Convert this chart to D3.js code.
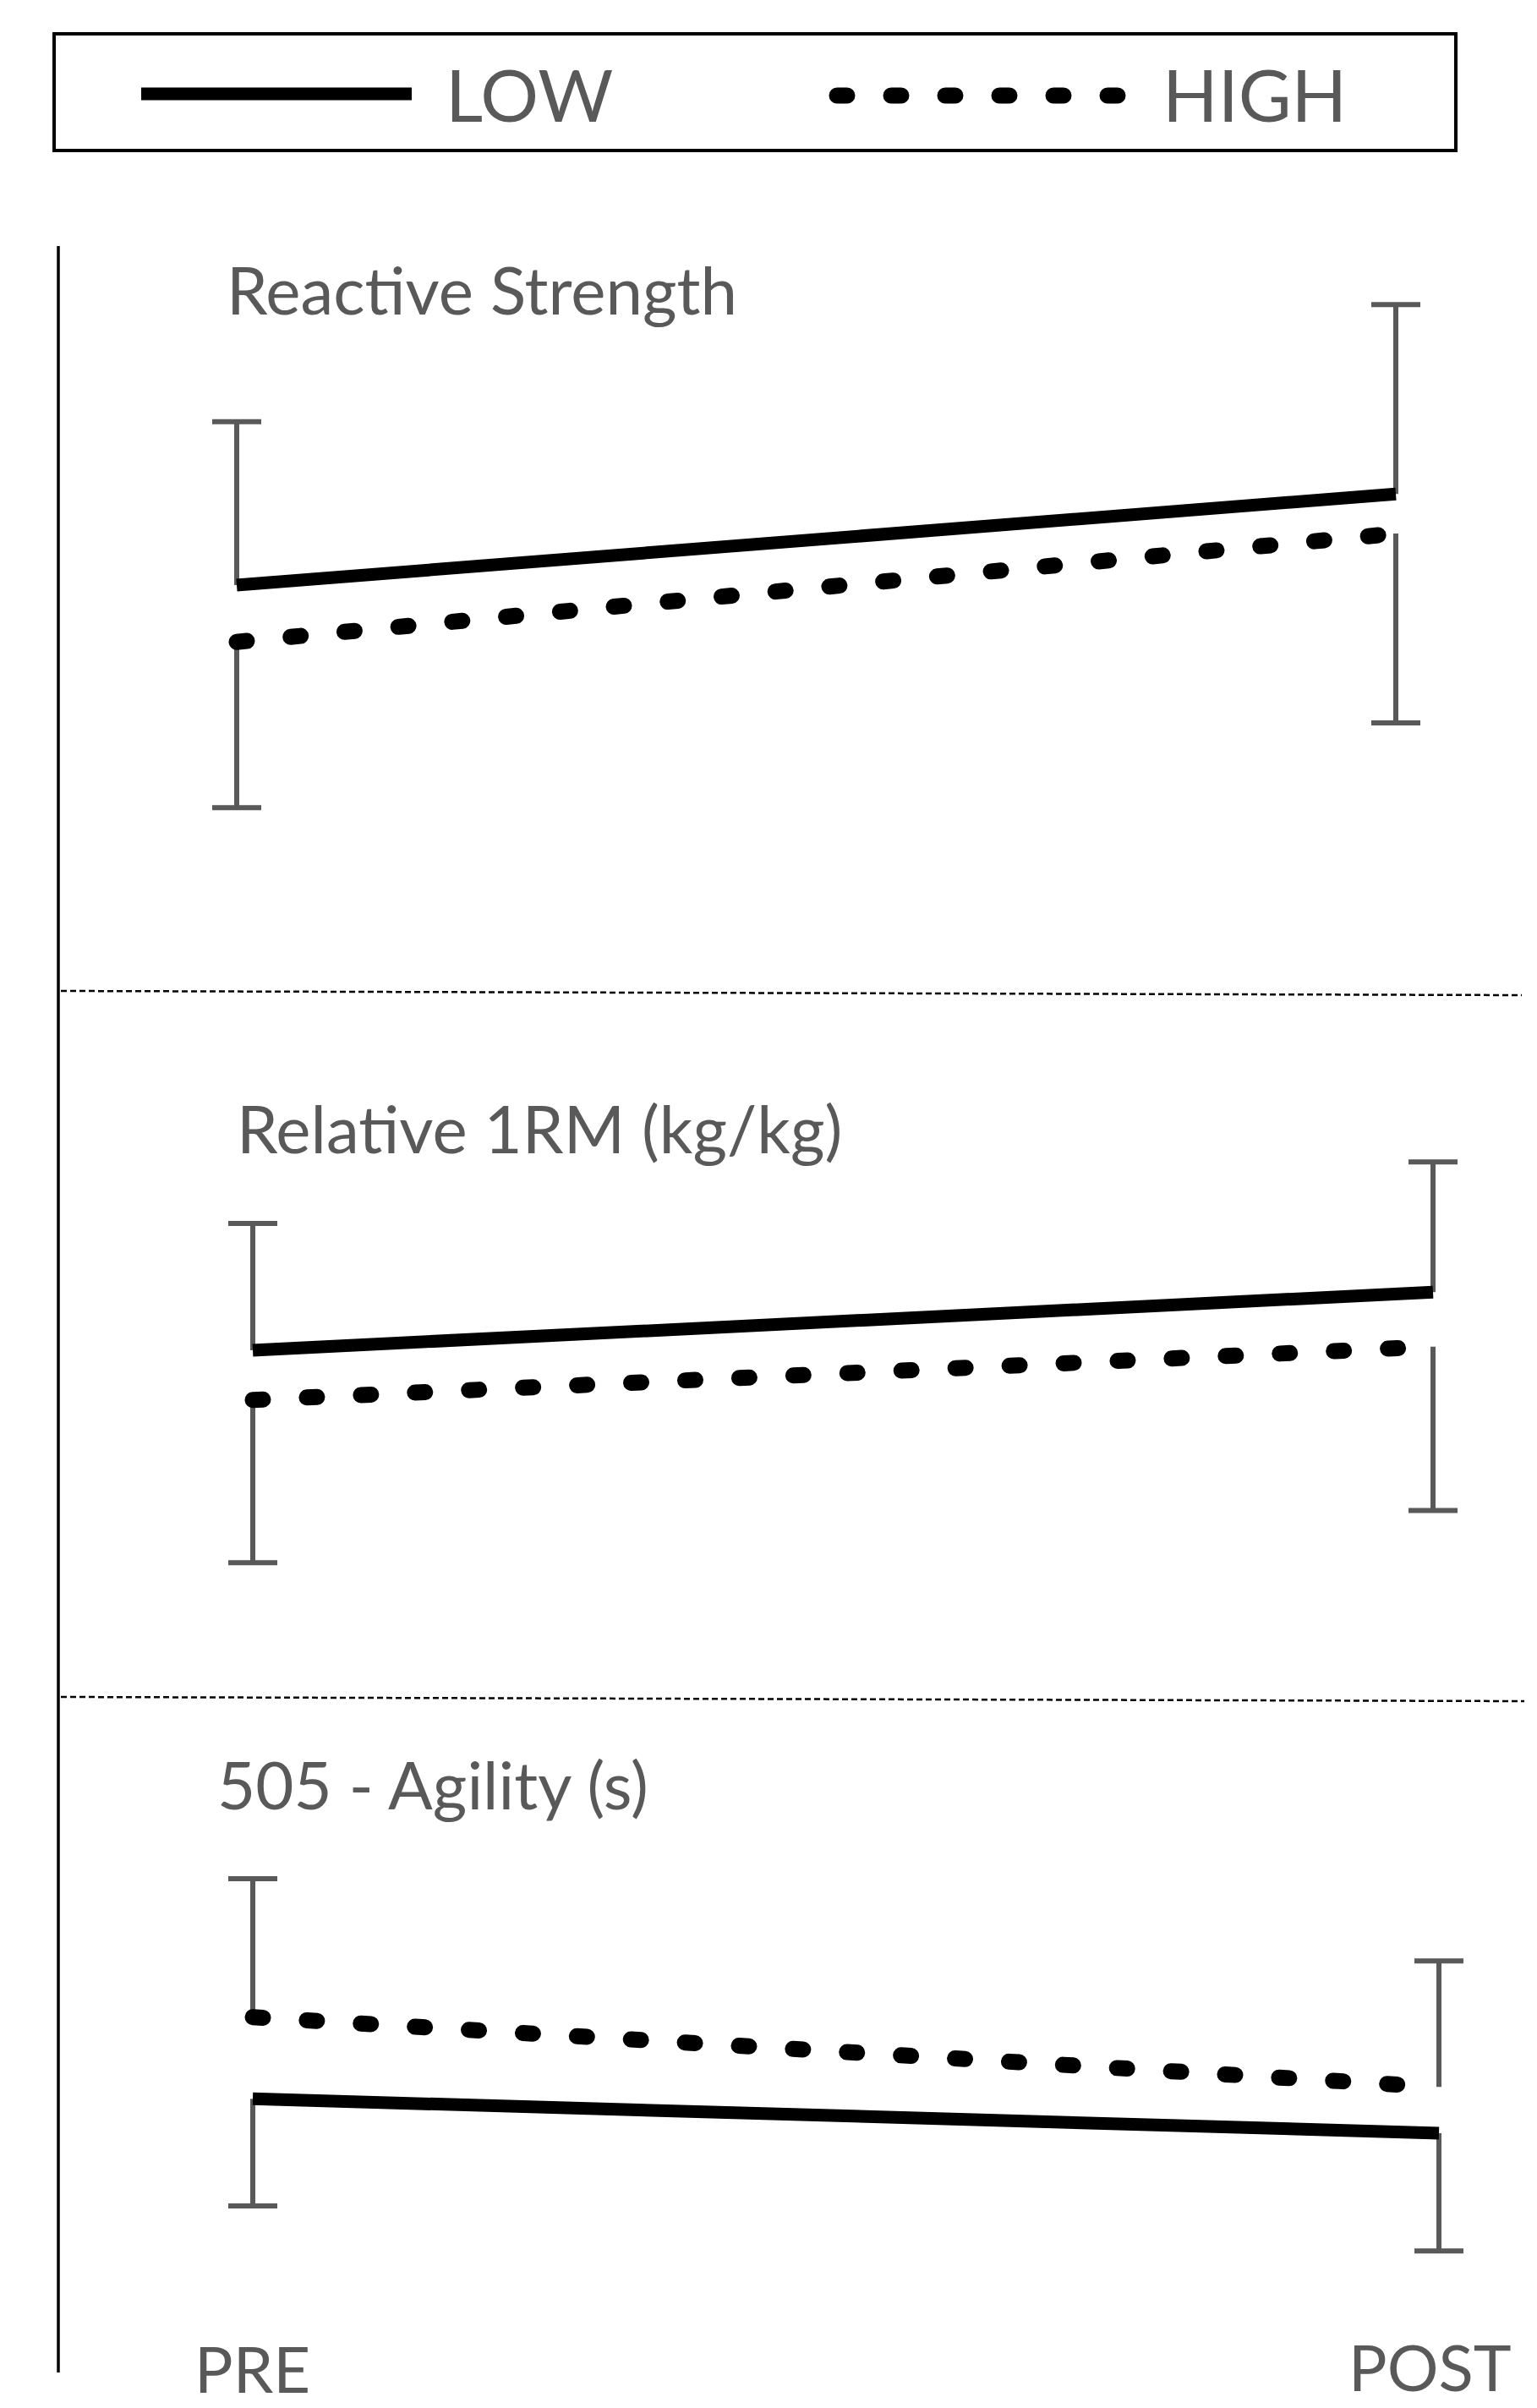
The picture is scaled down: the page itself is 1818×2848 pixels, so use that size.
<!DOCTYPE html>
<html>
<head>
<meta charset="utf-8">
<script src="https://cdnjs.cloudflare.com/ajax/libs/d3/7.8.5/d3.min.js"></script>
<style>
  body { margin: 0; background: #fff; }
  text { font-family: Lato, "Open Sans", sans-serif; fill: #595959; }
</style>
</head>
<body>
<div id="chart"></div>
<script>
var timepoints  = ["PRE", "POST"];
var panelTitles = ["Reactive Strength", "Relative 1RM (kg/kg)", "505 - Agility (s)"];
var groups      = ["LOW", "HIGH"];

// no y axis in the figure, so values are read in arbitrary units (0-10 per panel)
// each row = one panel, [PRE, POST]
var lowMean  = [[4.40, 5.94], [4.33, 5.31], [3.11, 2.53]];
var lowSD    = [[2.76, 3.20], [2.14, 2.20], [1.81, 1.99]];
var highMean = [[3.44, 5.27], [3.49, 4.39], [4.49, 3.31]];
var highSD   = [[2.80, 3.20], [2.75, 2.77], [2.34, 2.13]];

var width  = 1818,
    height = 2848;

// layout of the three stacked panels
var panels = [
  {top: 300,  bottom: 1000, x0: 280, x1: 1651, titleX: 268, titleY: 372},
  {top: 1200, bottom: 1900, x0: 299, x1: 1695, titleX: 280, titleY: 1364},
  {top: 2000, bottom: 2700, x0: 299, x1: 1702, titleX: 257, titleY: 2140}
];

var barColor = "#595959";

var svg = d3.select("#chart")
  .append("svg")
  .attr("width", width)
  .attr("height", height);

/* legend */
var legend = svg.append("g").attr("class", "legend");
legend.append("rect")
  .attr("x", 64).attr("y", 40)
  .attr("width", 1658).attr("height", 138)
  .attr("fill", "none")
  .attr("stroke", "#000")
  .attr("stroke-width", 4);

legend.append("line")
  .attr("x1", 167).attr("x2", 487)
  .attr("y1", 111).attr("y2", 111)
  .attr("stroke", "#000")
  .attr("stroke-width", 15);
legend.append("text")
  .attr("x", 527).attr("y", 144)
  .style("font-size", "86px")
  .text(groups[0]);

legend.append("line")
  .attr("x1", 990).attr("x2", 1330)
  .attr("y1", 113).attr("y2", 113)
  .attr("stroke", "#000")
  .attr("stroke-width", 19)
  .attr("stroke-linecap", "round")
  .attr("stroke-dasharray", "12 52");
legend.append("text")
  .attr("x", 1375).attr("y", 144)
  .style("font-size", "86px")
  .text(groups[1]);

/* left vertical axis */
svg.append("line")
  .attr("x1", 69).attr("x2", 69)
  .attr("y1", 291).attr("y2", 2806)
  .attr("stroke", "#000")
  .attr("stroke-width", 3.5);

/* dashed separators between panels */
var separators = [[1172, 1177, 1800], [2007, 2012, 1803]];
svg.selectAll(".sep")
  .data(separators)
  .enter()
  .append("line")
  .attr("class", "sep")
  .attr("x1", 72)
  .attr("x2", function(d) { return d[2]; })
  .attr("y1", function(d) { return d[0]; })
  .attr("y2", function(d) { return d[1]; })
  .attr("stroke", "#000")
  .attr("stroke-width", 2.5)
  .attr("stroke-dasharray", "7 4");

function drawPanel(i) {
  var p = panels[i];
  var x = d3.scalePoint().domain(timepoints).range([p.x0, p.x1]);
  var y = d3.scaleLinear().domain([0, 10]).range([p.bottom, p.top]);

  var g = svg.append("g").attr("class", "panel");

  g.append("text")
    .attr("x", p.titleX).attr("y", p.titleY)
    .style("font-size", "78px")
    .text(panelTitles[i]);

  var low = timepoints.map(function(t, j) {
    return {t: t, m: lowMean[i][j], sd: lowSD[i][j]};
  });
  var high = timepoints.map(function(t, j) {
    return {t: t, m: highMean[i][j], sd: highSD[i][j]};
  });

  // error bars: the group drawn higher gets its bar upward, the other downward
  var bars = [];
  timepoints.forEach(function(t, j) {
    var lowUp = lowMean[i][j] > highMean[i][j];
    bars.push({t: t, from: low[j].m, to: lowUp ? low[j].m + low[j].sd : low[j].m - low[j].sd});
    bars.push({t: t, from: high[j].m, to: lowUp ? high[j].m - high[j].sd : high[j].m + high[j].sd});
  });

  var eb = g.selectAll(".errbar")
    .data(bars)
    .enter()
    .append("g")
    .attr("class", "errbar");
  eb.append("line")
    .attr("x1", function(d) { return x(d.t); })
    .attr("x2", function(d) { return x(d.t); })
    .attr("y1", function(d) { return y(d.from); })
    .attr("y2", function(d) { return y(d.to); })
    .attr("stroke", barColor)
    .attr("stroke-width", 6);
  eb.append("line")
    .attr("x1", function(d) { return x(d.t) - 29; })
    .attr("x2", function(d) { return x(d.t) + 29; })
    .attr("y1", function(d) { return y(d.to); })
    .attr("y2", function(d) { return y(d.to); })
    .attr("stroke", barColor)
    .attr("stroke-width", 6);

  var line = d3.line()
    .x(function(d) { return x(d.t); })
    .y(function(d) { return y(d.m); });

  g.append("path")
    .datum(low)
    .attr("d", line)
    .attr("fill", "none")
    .attr("stroke", "#000")
    .attr("stroke-width", 15);

  g.append("path")
    .datum(high)
    .attr("d", line)
    .attr("fill", "none")
    .attr("stroke", "#000")
    .attr("stroke-width", 19)
    .attr("stroke-linecap", "round")
    .attr("stroke-dasharray", "12 52");
}

panels.forEach(function(p, i) { drawPanel(i); });

/* time labels at the bottom */
var labelPos = [[230, 2830], [1595, 2828]];
svg.selectAll(".tlabel")
  .data(timepoints)
  .enter()
  .append("text")
  .attr("class", "tlabel")
  .attr("x", function(d, i) { return labelPos[i][0]; })
  .attr("y", function(d, i) { return labelPos[i][1]; })
  .style("font-size", "76px")
  .text(function(d) { return d; });
</script>
</body>
</html>
